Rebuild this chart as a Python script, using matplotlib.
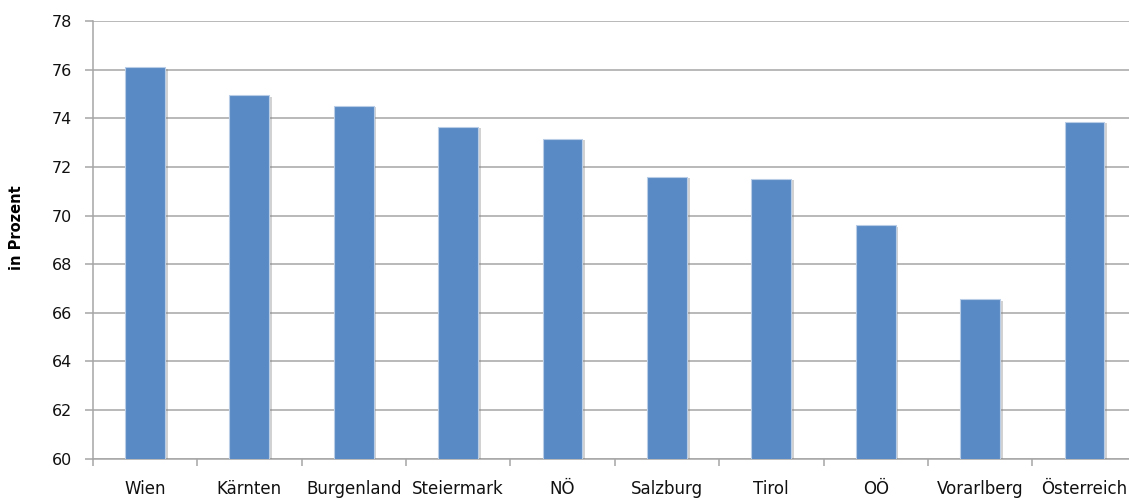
import matplotlib
matplotlib.use("Agg")
import matplotlib.pyplot as plt
import matplotlib.patheffects as pe
import numpy as np

# data
regions = ["Wien", "Kärnten", "Burgenland", "Steiermark", "NÖ",
           "Salzburg", "Tirol", "OÖ", "Vorarlberg", "Österreich"]
values = [76.1, 74.95, 74.5, 73.65, 73.15, 71.6, 71.5, 69.6, 66.55, 73.85]

plt.rcParams['font.family'] = ['DejaVu Sans']

fig = plt.figure(figsize=(11.29, 5.0), dpi=100)
# axes runs a little past the right edge, like the cropped original
ax = fig.add_axes([92.7/1129, 41.3/500, 1044/1129, 437.7/500])

x = np.arange(len(regions))
shadow = [pe.SimplePatchShadow(offset=(2, -1), shadow_rgbFace='#808080', alpha=0.35),
          pe.Normal()]
bars = ax.bar(x, values, width=0.38, bottom=0, color='#5A8AC5',
              edgecolor='#B9CDE6', linewidth=0.8, zorder=3)
for b in bars:
    b.set_path_effects(shadow)

ax.set_xlim(-0.5, len(regions) - 0.5)
ax.set_ylim(60, 78)
ax.set_yticks(np.arange(60, 79, 2))
ax.yaxis.grid(True, color='#A6A6A6', linewidth=1.1, zorder=0)
ax.set_axisbelow(True)

# ticks between categories, labels under centres
ax.set_xticks(np.arange(-0.5, len(regions) - 0.5 + 0.01, 1.0))
ax.set_xticklabels([])
ax.set_xticks(x, minor=True)
ax.set_xticklabels(regions, minor=True, fontsize=12, color='#111111')
ax.tick_params(axis='x', which='major', length=5, width=1.1, color='#A6A6A6')
ax.tick_params(axis='x', which='minor', length=0, pad=15)
ax.tick_params(axis='y', length=6, width=1.1, color='#A6A6A6', pad=9,
               labelsize=11.5, labelcolor='#111111')

for s in ['top', 'right']:
    ax.spines[s].set_visible(False)
for s in ['left', 'bottom']:
    ax.spines[s].set_color('#A6A6A6')
    ax.spines[s].set_linewidth(1.1)

fig.text(17/1129, 1 - 228/500, "in Prozent", rotation=90, fontsize=10.5,
         fontweight='bold', ha='center', va='center')

fig.savefig("out.png", dpi=100)
